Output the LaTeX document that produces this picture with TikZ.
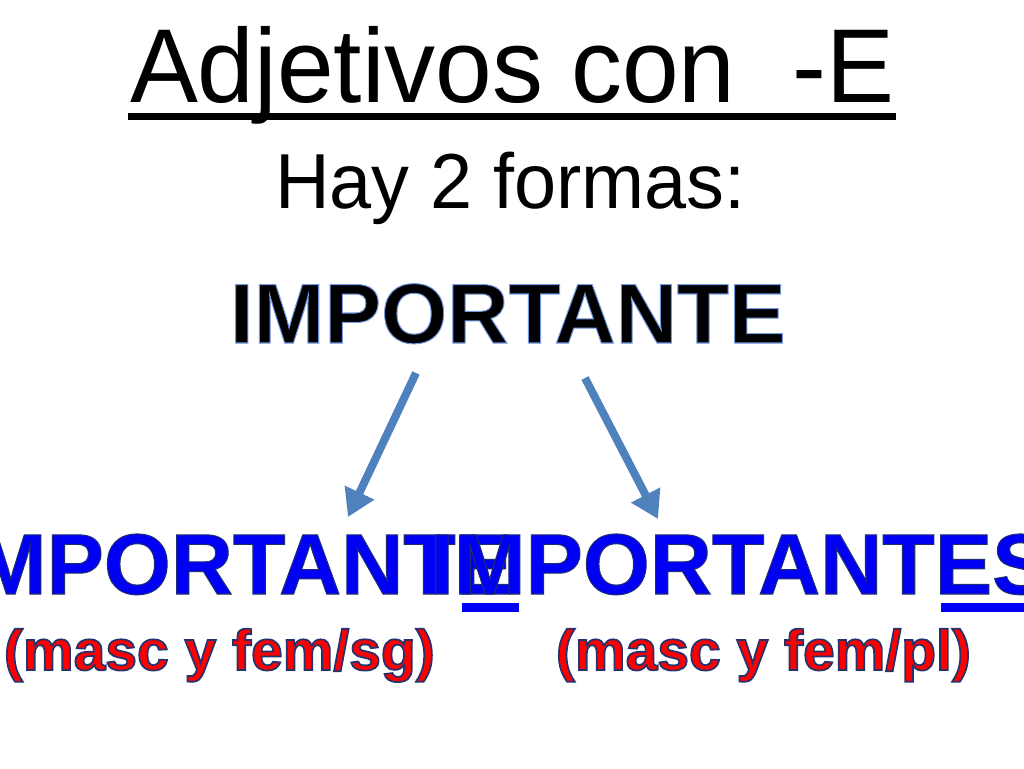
\documentclass[tikz,border=0pt]{standalone}
\usepackage{fontspec}
\setmainfont{Liberation Sans}
\newfontfamily\titlefont{Liberation Sans}[FakeStretch=0.97]
\newfontfamily\edgefont{Liberation Sans}[BoldFeatures={FakeBold=3}]
\newfontfamily\thinedgefont{Liberation Sans}[BoldFeatures={FakeBold=1.2}]
\usepackage{xcolor}
\usetikzlibrary{arrows.meta}

\definecolor{arrowblue}{RGB}{79,129,189}
\definecolor{wordblue}{RGB}{0,0,245}

% stroke colour for the outlined letters
\newcommand{\edgecol}[1]{\special{pdf:code #1 RG}}

\begin{document}
\begin{tikzpicture}[x=1pt,y=1pt,
  txt/.style={anchor=base west,inner sep=0pt,outer sep=0pt},
  bigword/.style={txt,text=wordblue,font=\fontsize{86}{86}\selectfont\thinedgefont\bfseries},
  gramlabel/.style={txt,text=red,font=\fontsize{57}{57}\selectfont\edgefont\bfseries},
  flecha/.style={arrowblue,line width=8pt,-{Triangle[length=27pt,width=31pt]}}]
  \useasboundingbox (0,0) rectangle (1024,-768);
  \clip (0,0) rectangle (1024,-768);

  % title
  \node[txt,font=\fontsize{105}{105}\selectfont\titlefont] (title) at (130,-102) {Adjetivos con\ \ -E};
  \fill (128,-113) rectangle (896,-120);
  \node[txt,font=\fontsize{78}{78}\selectfont\titlefont] (sub) at (275,-208) {Hay 2 formas:};

  \node[txt,font=\fontsize{85}{85}\selectfont\thinedgefont\bfseries]
    (base) at (230,-343) {\edgecol{0.45 0.6 0.9}IMPORTANTE};

  % arrows
  \coordinate (l1) at (416,-373);
  \coordinate (l2) at (348,-517);
  \coordinate (r1) at (585,-378);
  \coordinate (r2) at (658,-519);
  \draw[flecha] (l1) -- (l2);
  \draw[flecha] (r1) -- (r2);

  % the two forms
  \node[bigword] (sg) at (-49,-594) {\edgecol{0.12 0.18 0.45}IMPORTANTE};
  \fill[wordblue] (462,-603) rectangle (519,-612);
  \node[bigword] (pl) at (430,-594) {\edgecol{0.12 0.18 0.45}IMPORTANTES};
  \fill[wordblue] (941,-603) rectangle (1060,-612);

  \node[gramlabel] (sglabel) at (4,-670) {\edgecol{0.14 0.2 0.43}(masc y fem/sg)};
  \node[gramlabel] (pllabel) at (556,-670) {\edgecol{0.14 0.2 0.43}(masc y fem/pl)};

\end{tikzpicture}
\end{document}
